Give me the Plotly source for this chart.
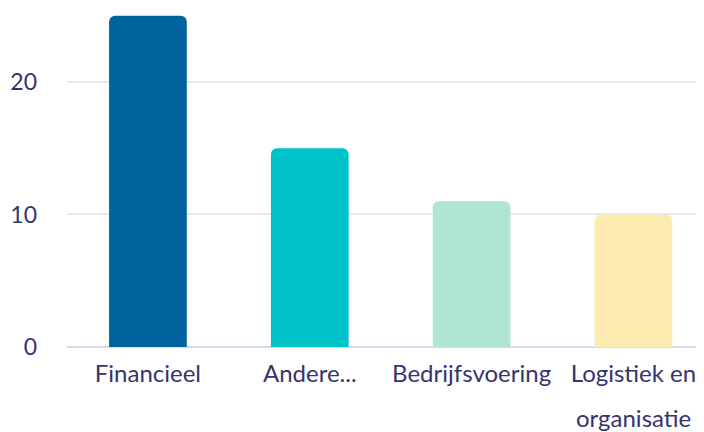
import plotly.graph_objects as go

categories = ["Financieel", "Andere...", "Bedrijfsvoering", "Logistiek en<br>organisatie"]
values = [25, 15, 11, 10]
colors = ["#00639e", "#00c2c9", "#b0e5d5", "#fdebb0"]

first_lines = [c.split("<br>")[0] for c in categories]

fig = go.Figure(go.Bar(
    x=categories, y=values,
    marker=dict(color=colors, line=dict(width=0)),
    width=0.48,
))

# second lines of wrapped category labels, drawn with wider line spacing
for c in categories:
    parts = c.split("<br>")
    if len(parts) > 1:
        fig.add_annotation(
            x=c, xref="x", y=0, yref="y", yshift=-70, yanchor="middle",
            text=parts[1], showarrow=False,
            font=dict(family="Lato", size=24, color="#35346e"),
        )

fig.update_layout(
    width=696, height=424,
    margin=dict(l=59, r=0, t=1, b=85, autoexpand=False),
    paper_bgcolor="white", plot_bgcolor="white",
    barcornerradius=6,
    showlegend=False,
    font=dict(family="Lato", size=24, color="#35346e"),
    xaxis=dict(
        range=[-0.5, 3.436], showgrid=False, ticks="",
        tickvals=categories, ticktext=first_lines,
        tickfont=dict(size=24), ticklabelstandoff=10,
        showline=False, zeroline=False,
    ),
    yaxis=dict(
        range=[0, 25.5], tickvals=[0, 10, 20], showgrid=True, gridcolor="#e8e8ec", gridwidth=2,
        zeroline=True, zerolinecolor="#d3dcee", zerolinewidth=2,
        showline=False, ticks="", ticklabelstandoff=29, tickfont=dict(size=23),
    ),
)

fig.write_html("out.html")
